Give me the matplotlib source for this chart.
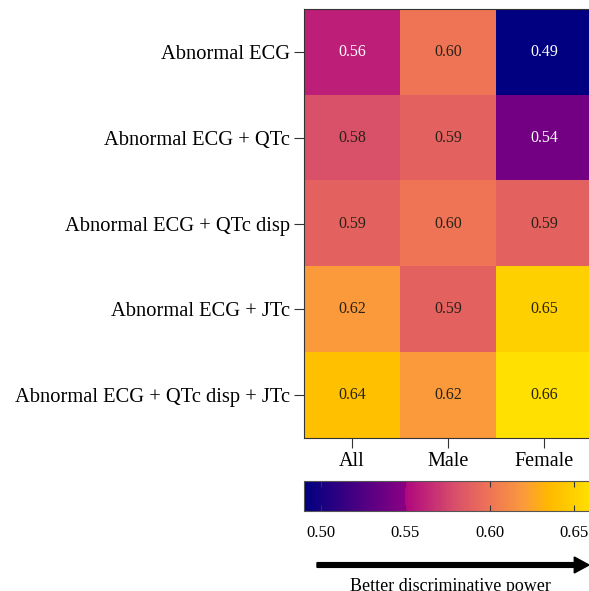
import numpy as np
import matplotlib
matplotlib.use("Agg")
import matplotlib.pyplot as plt
from matplotlib.colors import LinearSegmentedColormap, Normalize

plt.rcParams['font.family'] = ['Liberation Serif', 'DejaVu Serif']

rows = ['Abnormal ECG', 'Abnormal ECG + QTc', 'Abnormal ECG + QTc disp',
        'Abnormal ECG + JTc', 'Abnormal ECG + QTc disp + JTc']
cols = ['All', 'Male', 'Female']
auc = np.array([[0.56, 0.60, 0.49],
                [0.58, 0.59, 0.54],
                [0.59, 0.60, 0.59],
                [0.62, 0.59, 0.65],
                [0.64, 0.62, 0.66]])
cbar_ticks = [0.50, 0.55, 0.60, 0.65]

vmin, vmax = 0.49, 0.66
stops = [(0.49, '#000080'), (0.5499, '#8a0084'), (0.55, '#b0077f'),
         (0.58, '#d9506a'), (0.60, '#ee7456'), (0.62, '#fa9a3c'),
         (0.635, '#ffb800'), (0.66, '#ffe000')]
cmap = LinearSegmentedColormap.from_list(
    'auc', [((v - vmin) / (vmax - vmin), c) for v, c in stops])
norm = Normalize(vmin, vmax)

fig = plt.figure(figsize=(5.89, 5.91), dpi=100)
ax = fig.add_axes([304 / 589, 1 - 438 / 591, 288 / 589, 429 / 591])
ax.imshow(auc, cmap=cmap, norm=norm, aspect='auto')
for i in range(auc.shape[0]):
    for j in range(auc.shape[1]):
        v = auc[i, j]
        ax.text(j, i, f'{v:.2f}', ha='center', va='center', fontsize=11.5,
                color='white' if v < 0.565 else '#2a2218')
ax.set_xticks(range(len(cols)))
ax.set_xticklabels(cols, fontsize=14.5)
ax.set_yticks(range(len(rows)))
ax.set_yticklabels(rows, fontsize=14.8)
ax.tick_params(length=7, color='#333333', pad=3)
for s in ax.spines.values():
    s.set_color('#333333')

cax = fig.add_axes([304 / 589, 1 - 511 / 591, 287 / 589, 30 / 591])
cb = fig.colorbar(plt.cm.ScalarMappable(norm=norm, cmap=cmap), cax=cax,
                  orientation='horizontal', ticks=cbar_ticks)
cb.ax.set_xticklabels([f'{t:.2f}' for t in cbar_ticks], fontsize=12)
cb.ax.tick_params(direction='in', length=4, color='#333333', pad=10,
                  top=True, bottom=True)
cb.outline.set_edgecolor('#555555')

fig.patches.append(matplotlib.patches.FancyArrow(
    317 / 589, 1 - 565 / 591, 272 / 589, 0, width=0.008,
    head_width=0.027, head_length=0.025, length_includes_head=True,
    color='black', transform=fig.transFigure, figure=fig))
fig.text(450 / 589, 1 - 578 / 591, 'Better discriminative power',
         ha='center', va='top', fontsize=13)

fig.savefig('out.png', dpi=100)
